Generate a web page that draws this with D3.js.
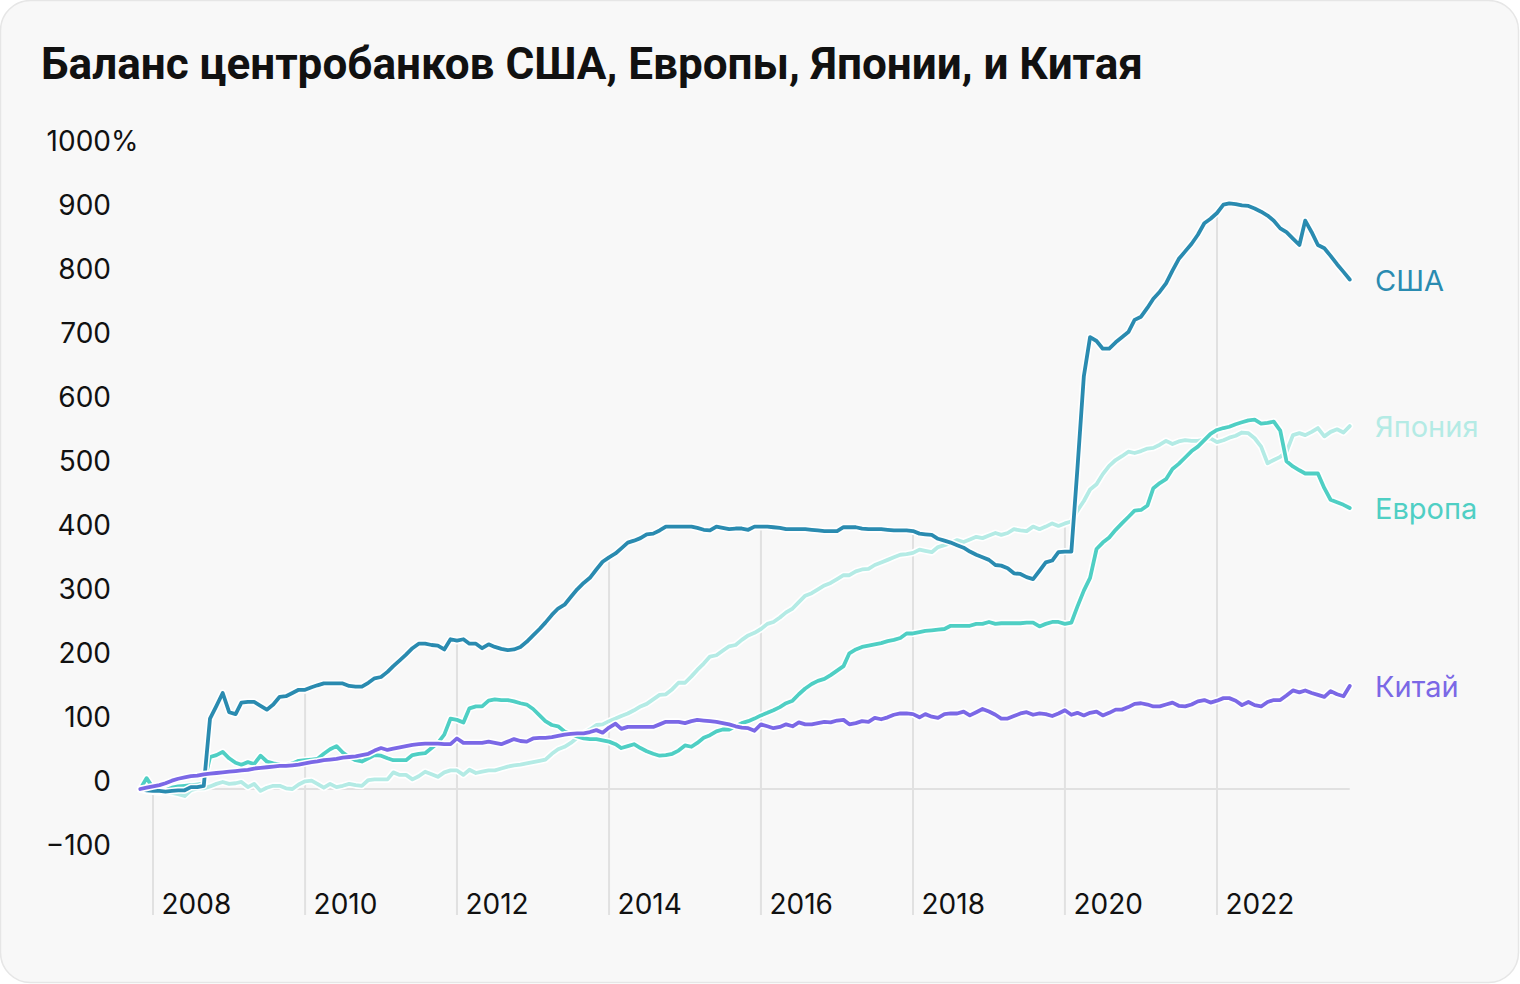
<!DOCTYPE html>
<html><head><meta charset="utf-8">
<script src="https://cdn.jsdelivr.net/npm/d3@7"></script>
<style>
html,body{margin:0;padding:0;background:#fff;}
svg{display:block;}
</style></head>
<body>
<svg id="c" width="1520" height="984"></svg>
<script>
const title = "Баланс центробанков США, Европы, Японии, и Китая";
const startMonth = new Date(2007, 10, 1); // Nov 2007, monthly to Oct 2023
const seriesNames = ["Япония", "Европа", "США", "Китай"];
const seriesColors = ["#b4ebe5", "#4fcfc4", "#2a8bb0", "#7b68e6"];

const usa = [0,-2,-3,-3,-4,-3,-2,-2,3,3,5,110,130,150,120,117,135,136,136,130,124,132,144,145,
150,155,155,159,162,165,165,165,165,161,160,160,166,173,175,183,192,201,210,220,227,227,
225,224,218,234,232,234,227,227,220,226,222,219,217,218,222,230,240,250,260,272,282,288,
300,312,322,330,343,355,362,368,376,385,388,392,398,399,404,410,410,410,410,410,408,405,
404,410,408,406,407,407,405,410,410,410,409,408,406,406,406,406,405,404,403,403,403,409,
409,409,407,406,406,406,405,404,404,404,403,399,398,397,391,388,385,381,377,371,366,362,
358,350,349,345,337,336,331,328,341,354,357,370,371,371,500,645,706,700,688,688,698,706,
714,733,738,752,766,777,790,810,828,840,852,866,884,891,900,913,915,914,912,911,907,902,
896,888,876,870,860,850,888,870,850,845,833,820,808,796];

const europe = [0,17,2,0,-2,2,4,5,6,7,8,50,53,58,48,41,38,42,39,52,43,40,38,37,40,44,45,
46,47,55,62,67,57,50,45,43,48,53,52,48,45,45,45,53,55,56,64,72,85,110,108,104,126,129,129,
138,140,139,139,137,134,132,125,115,106,100,98,90,86,82,79,78,78,76,74,70,64,67,70,64,59,
55,52,53,55,60,68,66,72,80,84,90,93,93,98,103,106,110,115,119,123,128,134,138,148,157,164,
169,172,178,185,192,212,218,222,224,226,228,231,233,236,243,243,245,247,248,249,250,255,
255,255,255,258,258,261,258,259,259,259,259,260,260,254,258,261,261,258,260,285,310,330,
375,385,393,405,415,425,435,436,443,470,478,484,500,508,518,528,535,545,555,561,564,566,
570,573,576,577,571,572,574,560,512,504,498,493,493,493,470,452,448,444,439];

const japan = [0,-3,-4,-5,-4,-6,-8,-11,-2,1,1,4,8,11,8,9,11,3,8,-3,2,5,5,1,0,7,12,13,8,2,
8,3,5,8,6,5,14,15,15,15,26,22,22,15,20,27,23,19,26,29,29,22,30,25,27,29,29,32,35,37,38,40,
42,44,46,55,62,66,72,80,87,93,100,101,106,110,114,118,123,129,133,140,147,148,156,166,166,
176,186,196,207,209,216,223,225,233,240,244,250,258,261,268,276,282,292,302,306,312,318,
322,328,334,334,340,343,344,350,354,358,362,366,367,369,374,372,370,378,381,384,389,386,
390,394,392,396,400,397,400,406,404,403,410,406,410,415,411,415,418,435,450,468,476,492,
505,514,520,527,525,528,532,533,538,544,539,543,545,544,544,546,548,542,545,549,552,557,
556,548,535,509,514,519,527,553,556,553,558,564,551,558,562,557,567];

const china = [0,2,4,6,9,13,16,18,20,21,23,24,25,26,27,28,29,30,32,33,34,35,36,36,37,38,
40,42,43,45,46,47,49,50,51,53,55,60,64,61,63,65,67,69,70,71,71,71,70,70,79,72,72,72,72,74,
72,70,74,78,75,74,79,80,80,81,83,85,86,87,87,89,92,88,96,102,94,97,97,97,97,97,101,105,105,
105,103,106,108,107,106,105,103,101,98,96,95,91,101,98,95,97,101,98,104,101,101,103,105,
104,107,108,101,103,106,105,111,109,112,116,118,118,117,112,117,113,111,117,118,118,121,
115,120,125,121,116,110,110,114,118,120,116,118,117,114,118,123,116,119,115,119,121,115,
119,124,124,128,133,134,132,129,129,132,135,130,129,132,137,139,135,138,142,142,138,131,
136,131,129,136,139,139,146,154,151,154,150,147,144,153,148,145,161];

const yTicks = [-100,0,100,200,300,400,500,600,700,800,900,1000];
const yTickLabels = ["−100","0","100","200","300","400","500","600","700","800","900","1000"];
const yUnit = "%";
const xTickYears = [2008,2010,2012,2014,2016,2018,2020,2022];

const seriesValues = [japan, europe, usa, china];
const n = usa.length;
const dates = d3.range(n).map(i => d3.timeMonth.offset(startMonth, i));

const svg = d3.select("#c");
svg.append("rect").attr("x",0.5).attr("y",0.5).attr("width",1518).attr("height",982)
  .attr("rx",30).attr("fill","#f8f8f8").attr("stroke","#e6e6e6").attr("stroke-width",1.5);

const x = d3.scaleTime().domain([new Date(2008,0,1), new Date(2022,0,1)]).range([153,1217]);
const y = d3.scaleLinear().domain([0,900]).range([789,213]);

const font = "Inter, 'Noto Sans', sans-serif";

// title
svg.append("text").attr("x",41).attr("y",79).text(title)
  .attr("font-family","Roboto, 'Liberation Sans', sans-serif").attr("font-weight",700)
  .attr("font-size",45).attr("fill","#111")
  .attr("textLength",1102).attr("lengthAdjust","spacingAndGlyphs");

// zero line
svg.append("line").attr("x1",x(dates[0])).attr("x2",x(dates[n-1]))
  .attr("y1",y(0)).attr("y2",y(0)).attr("stroke","#e1e1e1").attr("stroke-width",2);

// vertical drop lines
const tickDates = xTickYears.map(yr => new Date(yr,0,1));
tickDates.forEach(d => {
  const i = d3.bisector(dd => dd).left(dates, d);
  const mx = d3.max(seriesValues, s => s[i]);
  svg.append("line").attr("x1",x(d)).attr("x2",x(d))
    .attr("y1",y(Math.max(mx,0))+4).attr("y2",915)
    .attr("stroke","#e1e1e1").attr("stroke-width",2);
});

// y axis
const yAxis = d3.axisLeft(y).tickValues(yTicks).tickSize(0).tickPadding(0)
  .tickFormat((d,i) => yTickLabels[i]);
const gy = svg.append("g").attr("transform","translate(111,0)").call(yAxis);
gy.select(".domain").remove();
gy.selectAll("text").attr("dy",0).attr("y",1).attr("x",0)
  .attr("font-family",font).attr("font-size",28).attr("fill","#111").attr("text-anchor","end");
// unit hangs to the right of the top label
gy.selectAll(".tick").filter(d => d === 1000).select("text")
  .append("tspan").text(yUnit);
gy.selectAll(".tick").filter(d => d === 1000).each(function(){
  const t = d3.select(this).select("text");
  const full = t.node().getComputedTextLength();
  const ts = t.select("tspan").node().getComputedTextLength();
  t.attr("text-anchor","start").attr("x", -(full - ts));
});

// x axis
const xAxis = d3.axisBottom(x).tickValues(tickDates).tickSize(0).tickPadding(0)
  .tickFormat(d3.timeFormat("%Y"));
const gx = svg.append("g").attr("transform","translate(0,914)").call(xAxis);
gx.select(".domain").remove();
gx.selectAll("text").attr("dy",0).attr("y",0).attr("x",8)
  .attr("font-family",font).attr("font-size",28).attr("fill","#111").attr("text-anchor","start");

// lines
const line = d3.line().x((d,i) => x(dates[i])).y(d => y(d)).curve(d3.curveLinear);
seriesValues.forEach((s,k) => {
  svg.append("path").attr("d",line(s)).attr("fill","none").attr("stroke","#fff")
    .attr("stroke-width",7).attr("stroke-linejoin","round").attr("stroke-linecap","round");
  svg.append("path").attr("d",line(s)).attr("fill","none").attr("stroke",seriesColors[k])
    .attr("stroke-width",3.8).attr("stroke-linejoin","round").attr("stroke-linecap","round");
});

// series labels
seriesValues.forEach((s,k) => {
  svg.append("text").attr("x",1375).attr("y",y(s[n-1]) + 11)
    .text(seriesNames[k]).attr("font-family",font).attr("font-size",29)
    .attr("fill",seriesColors[k]);
});
</script>
</body></html>
